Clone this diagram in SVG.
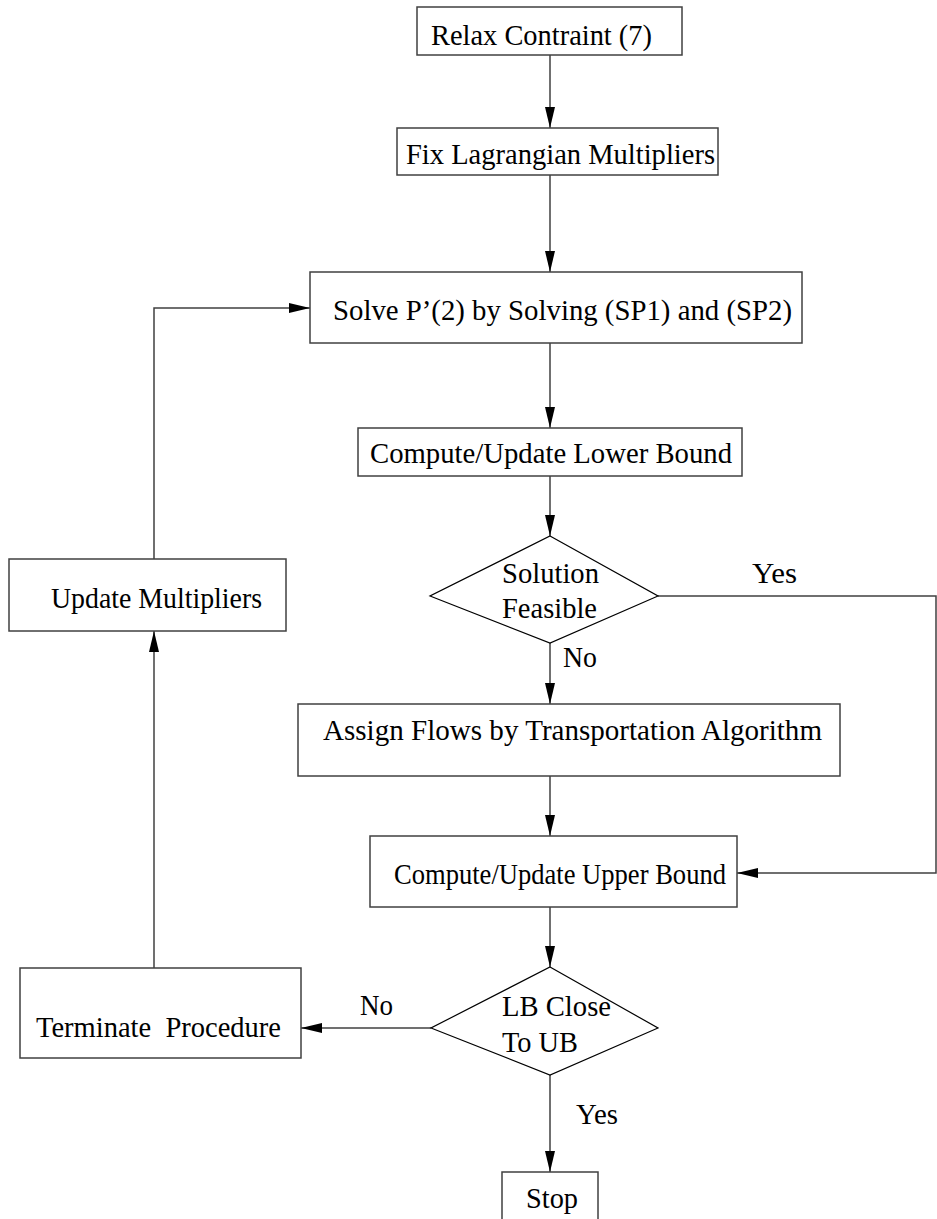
<svg xmlns="http://www.w3.org/2000/svg" width="937" height="1219" viewBox="0 0 937 1219">
<style>
  .box { fill: #ffffff; stroke: #404040; stroke-width: 1.5; }
  .dia { fill: #ffffff; stroke: #000000; stroke-width: 1.2; }
  .edge { fill: none; stroke: #404040; stroke-width: 1.5; }
  text { font-family: "Liberation Serif", "Times New Roman", serif; font-size: 29px; fill: #000000; }
</style>
<defs>
  <marker id="arrow" markerUnits="userSpaceOnUse" markerWidth="22" markerHeight="11" refX="21" refY="5" orient="auto">
    <path d="M0,0 L21,5 L0,10 z" fill="#000000"/>
  </marker>
</defs>
<rect width="937" height="1219" fill="#ffffff"/>

<g id="connectors">
  <line class="edge" x1="550" y1="55" x2="550" y2="128" marker-end="url(#arrow)"/>
  <line class="edge" x1="550" y1="175" x2="550" y2="272" marker-end="url(#arrow)"/>
  <line class="edge" x1="550" y1="343" x2="550" y2="428" marker-end="url(#arrow)"/>
  <line class="edge" x1="550" y1="476" x2="550" y2="536" marker-end="url(#arrow)"/>
  <line class="edge" x1="550" y1="643" x2="550" y2="704" marker-end="url(#arrow)"/>
  <line class="edge" x1="550" y1="776" x2="550" y2="836" marker-end="url(#arrow)"/>
  <line class="edge" x1="550" y1="907" x2="550" y2="967" marker-end="url(#arrow)"/>
  <line class="edge" x1="550" y1="1075" x2="550" y2="1172" marker-end="url(#arrow)"/>
  <polyline class="edge" points="658,596 936,596 936,873 737,873" marker-end="url(#arrow)"/>
  <line class="edge" x1="431" y1="1028" x2="301" y2="1028" marker-end="url(#arrow)"/>
  <line class="edge" x1="154" y1="968" x2="154" y2="631" marker-end="url(#arrow)"/>
  <polyline class="edge" points="154,559 154,308 310,308" marker-end="url(#arrow)"/>
  <text x="752" y="583" textLength="45" lengthAdjust="spacingAndGlyphs">Yes</text>
  <text x="563" y="667" textLength="34" lengthAdjust="spacingAndGlyphs">No</text>
  <text x="360" y="1015" textLength="33" lengthAdjust="spacingAndGlyphs">No</text>
  <text x="576" y="1124" textLength="42" lengthAdjust="spacingAndGlyphs">Yes</text>
</g>

<g id="relax">
  <rect class="box" x="417" y="7" width="265" height="48"/>
  <text x="431" y="45" textLength="221" lengthAdjust="spacingAndGlyphs">Relax Contraint (7)</text>
</g>
<g id="fix">
  <rect class="box" x="397" y="128" width="321" height="47"/>
  <text x="406" y="164" textLength="309" lengthAdjust="spacingAndGlyphs">Fix Lagrangian Multipliers</text>
</g>
<g id="solve">
  <rect class="box" x="310" y="272" width="492" height="71"/>
  <text x="333" y="320" textLength="459" lengthAdjust="spacingAndGlyphs">Solve P’(2) by Solving (SP1) and (SP2)</text>
</g>
<g id="lower">
  <rect class="box" x="358" y="428" width="384" height="48"/>
  <text x="370" y="463" textLength="362" lengthAdjust="spacingAndGlyphs">Compute/Update Lower Bound</text>
</g>
<g id="feasible">
  <polygon class="dia" points="550,536 658,596 550,643 430,596"/>
  <text x="502" y="583" textLength="97" lengthAdjust="spacingAndGlyphs">Solution</text>
  <text x="502" y="618" textLength="95" lengthAdjust="spacingAndGlyphs">Feasible</text>
</g>
<g id="assign">
  <rect class="box" x="298" y="704" width="542" height="72"/>
  <text x="323" y="740" textLength="499" lengthAdjust="spacingAndGlyphs">Assign Flows by Transportation Algorithm</text>
</g>
<g id="upper">
  <rect class="box" x="370" y="836" width="367" height="71"/>
  <text x="394" y="884" textLength="332" lengthAdjust="spacingAndGlyphs">Compute/Update Upper Bound</text>
</g>
<g id="close">
  <polygon class="dia" points="550,967 658,1028 550,1075 431,1028"/>
  <text x="502" y="1016" textLength="109" lengthAdjust="spacingAndGlyphs">LB Close</text>
  <text x="502" y="1052" textLength="76" lengthAdjust="spacingAndGlyphs">To UB</text>
</g>
<g id="terminate">
  <rect class="box" x="20" y="968" width="281" height="90"/>
  <text x="36" y="1037" textLength="245" lengthAdjust="spacingAndGlyphs" xml:space="preserve">Terminate  Procedure</text>
</g>
<g id="update">
  <rect class="box" x="9" y="559" width="277" height="72"/>
  <text x="51" y="608" textLength="211" lengthAdjust="spacingAndGlyphs">Update Multipliers</text>
</g>
<g id="stop">
  <rect class="box" x="502" y="1172" width="96" height="60"/>
  <text x="526" y="1208" textLength="52" lengthAdjust="spacingAndGlyphs">Stop</text>
</g>
</svg>
